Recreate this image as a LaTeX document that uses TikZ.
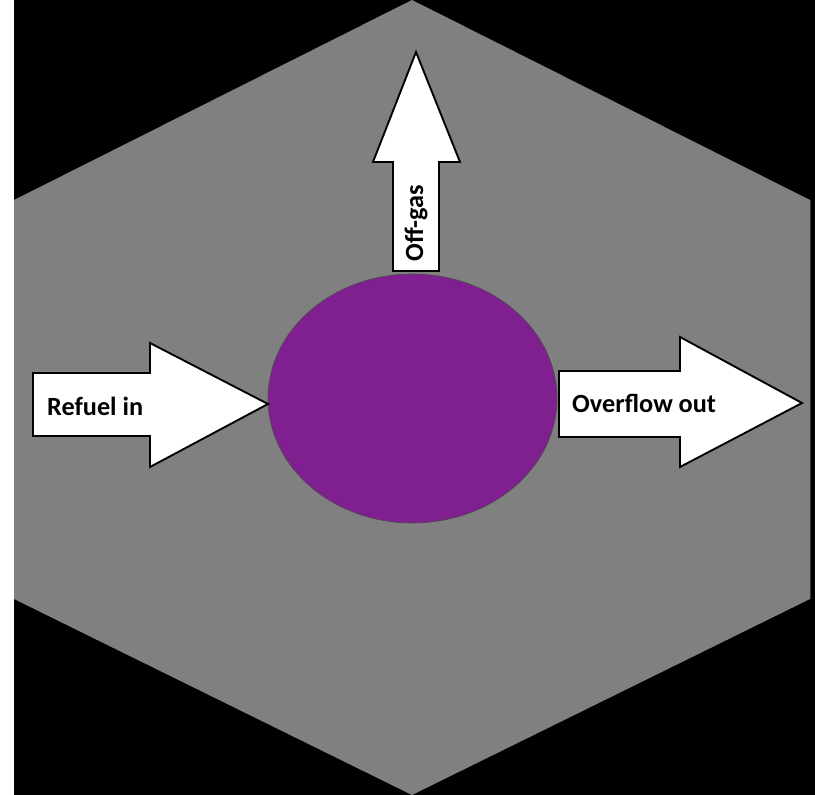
\documentclass[tikz,border=0pt]{standalone}
\usepackage{fontspec}
\usetikzlibrary{shapes.geometric}
\setmainfont{Carlito}
\definecolor{hexgray}{RGB}{128,128,128}
\definecolor{corepurple}{RGB}{128,31,143}
\begin{document}
\begin{tikzpicture}[x=0.03cm,y=-0.03cm,
  flowarrow/.style={fill=white,draw=black,line width=1.6pt,line join=miter},
  flowlabel/.style={font=\bfseries\fontsize{22.4}{26}\selectfont,inner sep=0pt}]
\useasboundingbox (0,0) rectangle (815,795);
\fill[white] (0,0) rectangle (815,795);
\fill[black] (14,0) rectangle (815,795);
\fill[hexgray] (412,0) -- (810,200) -- (810,599) -- (412,795) -- (14,599) -- (14,200) -- cycle;
\draw[black!80,line width=0.6pt] (810,200) -- (810,599);
% core
\node[ellipse,draw=black!70,fill=corepurple,line width=0.5pt,minimum width=289*0.03cm,minimum height=249*0.03cm,inner sep=0pt] (core) at (412.5,398.5) {};
% refuel arrow
\draw[flowarrow] (33,373) -- (150,373) -- (150,343) -- (268,404) -- (150,467) -- (150,436) -- (33,436) -- cycle;
\node[flowlabel,anchor=west] (refuel) at (47,406) {Refuel in};
% overflow arrow
\draw[flowarrow] (559,371) -- (680,371) -- (680,337) -- (802,403) -- (680,467) -- (680,437) -- (559,437) -- cycle;
\node[flowlabel,anchor=west] (overflow) at (572,403) {Overflow out};
% off-gas arrow
\draw[flowarrow] (393,271) -- (393,162) -- (373,162) -- (416,52) -- (460,162) -- (439,162) -- (439,271) -- cycle;
\node[flowlabel,rotate=90] (offgas) at (416,223) {Off-gas};
\end{tikzpicture}
\end{document}
